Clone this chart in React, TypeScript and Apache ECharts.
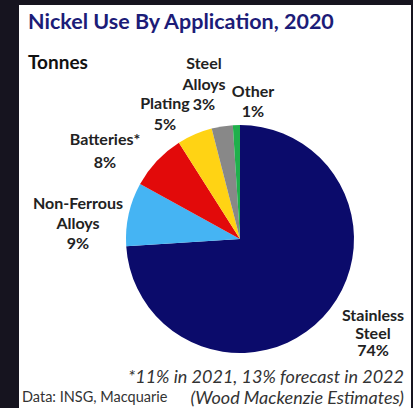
import React, { useEffect, useRef } from "react";
import * as echarts from "echarts";

const categories = ["Stainless Steel", "Non-Ferrous Alloys", "Batteries*", "Plating", "Steel Alloys", "Other"];
const shares = [74, 9, 8, 5, 3, 1];
const colors = ["#0b0b6b", "#45b4f3", "#e20a0a", "#ffd314", "#888888", "#1fb04c"];

const titleText = "Nickel Use By Application, 2020";
const unitText = "Tonnes";
const sourceText = "Data: INSG, Macquarie";
const noteLines = ["*11% in 2021, 13% forecast in 2022", "(Wood Mackenzie Estimates)"];

// label anchor positions (layout only)
const labelPos: [number, number, number][] = [
  [373, 332, 17.5],
  [78, 222, 20],
  [105, 150, 23],
  [165, 113, 21],
  [204, 83, 20.5],
  [253, 100, 20],
];

export default function App() {
  const ref = useRef<HTMLDivElement>(null);
  useEffect(() => {
    document.body.style.margin = "0";
    const chart = echarts.init(ref.current!, null, { renderer: "svg" });
    chart.setOption({
      animation: false,
      backgroundColor: "#16141f",
      graphic: [
        { type: "rect", z: -10, shape: { x: 19, y: 5, width: 392, height: 410 }, style: { fill: "#ffffff" } },
        {
          type: "text", left: 28, top: 10,
          style: { text: titleText, fill: "#1c1c78", font: "bold 21.5px Lato, 'Open Sans', sans-serif" },
        },
        {
          type: "text", left: 28, top: 52,
          style: { text: unitText, fill: "#111111", font: "bold 19px Lato, 'Open Sans', sans-serif" },
        },
        {
          type: "text", left: 22, top: 389,
          style: { text: sourceText, fill: "#333333", font: "14.5px Lato, 'Open Sans', sans-serif" },
        },
        {
          type: "text", right: 9, top: 367,
          style: { text: noteLines[0], fill: "#333333", font: "italic 18px Lato, 'Open Sans', sans-serif", align: "right" },
        },
        {
          type: "text", right: 9, top: 388,
          style: { text: noteLines[1], fill: "#333333", font: "italic 18px Lato, 'Open Sans', sans-serif", align: "right" },
        },
      ],
      series: [
        {
          type: "pie",
          center: [240, 239],
          radius: 114,
          startAngle: 90,
          clockwise: true,
          avoidLabelOverlap: false,
          labelLine: { show: false },
          itemStyle: { borderWidth: 0 },
          label: {
            show: true,
            position: "outside",
            formatter: (p: any) => `${p.name.replace(" ", "\n")}\n${p.value}%`,
            color: "#222222",
            fontFamily: "Lato, 'Open Sans', sans-serif",
            fontWeight: "bold",
            fontSize: 16,
            align: "center",
          },
          labelLayout: (p: any) => {
            const pos = labelPos[p.dataIndex];
            return { x: pos[0], y: pos[1], align: "center", verticalAlign: "middle" };
          },
          data: categories.map((c, i) => ({
            name: c,
            value: shares[i],
            itemStyle: { color: colors[i] },
            label: { lineHeight: labelPos[i][2] },
          })),
        },
      ],
    });
    return () => chart.dispose();
  }, []);
  return <div ref={ref} style={{ position: "absolute", left: 0, top: 0, width: 413, height: 408 }} />;
}
